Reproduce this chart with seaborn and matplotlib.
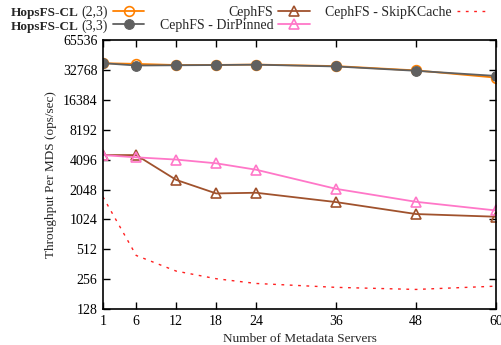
import matplotlib
matplotlib.use("Agg")
import matplotlib.pyplot as plt
import seaborn as sns

servers = [1, 6, 12, 18, 24, 36, 48, 60]
hops_23 = [38300, 37700, 36700, 36800, 37100, 35800, 32400, 27400]
hops_33 = [38300, 36300, 36500, 36700, 37000, 35500, 32100, 28500]
ceph = [4550, 4550, 2560, 1870, 1900, 1530, 1160, 1090]
ceph_pinned = [4550, 4320, 4100, 3760, 3240, 2080, 1540, 1260]
ceph_skip = [1730, 444, 309, 259, 232, 212, 202, 218]
yticks = [128, 256, 512, 1024, 2048, 4096, 8192, 16384, 32768, 65536]

sns.set_theme(style="ticks")
plt.rcParams['font.family'] = ['Liberation Serif', 'DejaVu Serif']

fig = plt.figure(figsize=(5.02, 3.45), dpi=100)
ax = fig.add_axes([0.205, 0.104, 0.783, 0.780])

sns.lineplot(x=servers, y=hops_23, ax=ax, color='#FF8000', marker='o', markersize=7,
             markerfacecolor='none', markeredgecolor='#FF8000', markeredgewidth=1.2,
             linewidth=1.3, label='(2,3)')
sns.lineplot(x=servers, y=hops_33, ax=ax, color='#606060', marker='o', markersize=7,
             markerfacecolor='#606060', markeredgecolor='#606060',
             linewidth=1.3, label='(3,3)')
sns.lineplot(x=servers, y=ceph, ax=ax, color='#A0522D', marker='^', markersize=7,
             markerfacecolor='none', markeredgecolor='#A0522D', markeredgewidth=1.2,
             linewidth=1.3, label='CephFS')
sns.lineplot(x=servers, y=ceph_pinned, ax=ax, color='#FF77C8', marker='^', markersize=7,
             markerfacecolor='none', markeredgecolor='#FF77C8', markeredgewidth=1.2,
             linewidth=1.3, label='CephFS - DirPinned')
sns.lineplot(x=servers, y=ceph_skip, ax=ax, color='#FF2020', linestyle=(0, (2, 4)),
             linewidth=1.0, label='CephFS - SkipKCache')

ax.set_yscale('log', base=2)
ax.set_ylim(128, 65536)
ax.set_yticks(yticks)
ax.set_yticklabels([str(v) for v in yticks])
ax.minorticks_off()
ax.set_xlim(1, 60)
ax.set_xticks(servers)
ax.set_xticklabels([str(v) for v in servers])
ax.tick_params(direction='in', top=True, right=True, labelsize=10, length=5, width=1,
               colors='black', pad=4)
for s in ax.spines.values():
    s.set_visible(True)
    s.set_linewidth(1.2)
    s.set_color('black')
ax.set_xlabel('Number of Metadata Servers', fontsize=9.5, labelpad=4)
ax.set_ylabel('Throughput Per MDS (ops/sec)', fontsize=9.5)

handles, labels = ax.get_legend_handles_labels()
ax.get_legend().remove()
leg = fig.legend(handles, labels, loc='upper right', bbox_to_anchor=(0.985, 1.0), ncol=3,
                 frameon=False, markerfirst=False, fontsize=10, handlelength=2.3,
                 labelspacing=0.0, columnspacing=1.1, handletextpad=0.35,
                 borderaxespad=0.0)

# bold "HopsFS-CL" prefix in front of the first two legend labels
fig.canvas.draw()
W, H = fig.get_size_inches() * fig.dpi
for t in leg.get_texts()[:2]:
    bb = t.get_window_extent()
    fig.text((bb.x0 - 3) / W, bb.y0 / H, 'HopsFS-CL', fontsize=9.5, fontweight='bold',
             ha='right', va='bottom')

plt.savefig('out.png', dpi=100)
plt.close()
